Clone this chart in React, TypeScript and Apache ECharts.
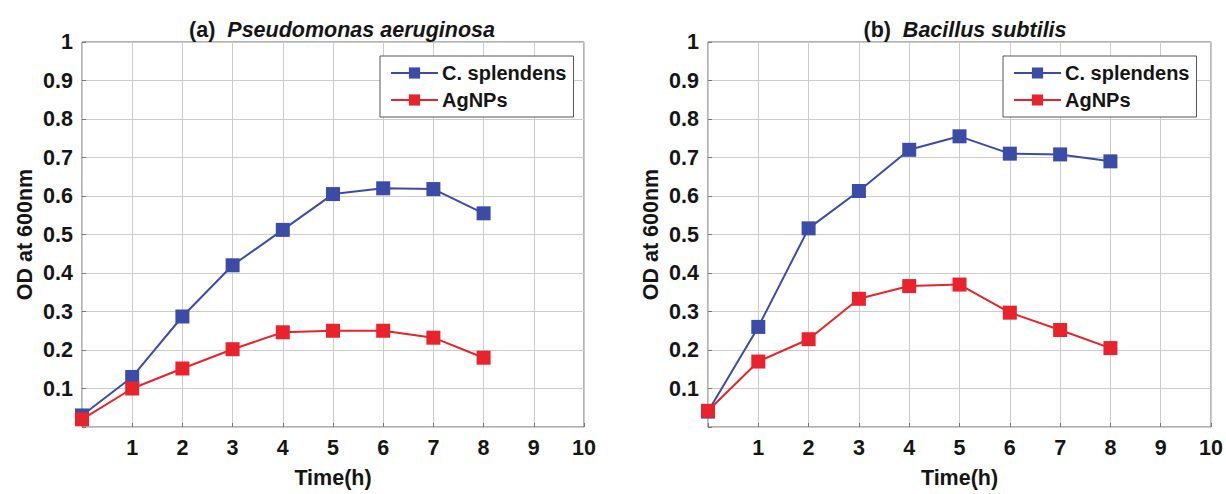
import React, { useEffect, useRef } from "react";
import * as echarts from "echarts";

const timeH = [0, 1, 2, 3, 4, 5, 6, 7, 8];
const paCSplendens = [0.03, 0.13, 0.287, 0.42, 0.512, 0.605, 0.62, 0.618, 0.555];
const paAgNPs = [0.02, 0.1, 0.152, 0.202, 0.246, 0.25, 0.25, 0.232, 0.18];
const bsCSplendens = [0.04, 0.26, 0.516, 0.613, 0.72, 0.755, 0.71, 0.708, 0.69];
const bsAgNPs = [0.042, 0.17, 0.228, 0.333, 0.366, 0.37, 0.297, 0.252, 0.205];
const seriesNames = ["C. splendens", "AgNPs"];
const panelTitles = [["(a)", "Pseudomonas aeruginosa"], ["(b)", "Bacillus subtilis"]];

const BLUE = "#3a4ca6";
const RED = "#e8232b";
const FONT = "'Liberation Sans', Arial, sans-serif";
const FS = 21.5;

export default function App() {
  const ref = useRef<HTMLDivElement>(null);
  useEffect(() => {
    document.body.style.margin = "0";
    const chart = echarts.init(ref.current!, null, { renderer: "svg" });
    const grids = [
      { left: 82, top: 42, width: 502, height: 389 },
      { left: 708, top: 42, width: 504, height: 389 },
    ];
    const txt = { fontFamily: FONT, fontWeight: "bold", fontSize: FS, color: "#151515" };
    const mkX = (i: number) => ({
      type: "value",
      gridIndex: i,
      min: 0,
      max: 10,
      interval: 1,
      name: "Time(h)",
      nameLocation: "middle",
      nameGap: 40,
      nameTextStyle: txt,
      axisLine: { show: false },
      axisTick: { show: true, inside: true, length: 4, lineStyle: { color: "#777" } },
      axisLabel: {
        margin: 10,
        ...txt,
        formatter: (v: number) => (v === 0 ? "" : String(v)),
      },
      splitLine: { show: true, lineStyle: { color: "#cccccc", width: 1 } },
    });
    const mkY = (i: number) => ({
      type: "value",
      gridIndex: i,
      min: 0,
      max: 1,
      interval: 0.1,
      name: "OD at 600nm",
      nameLocation: "middle",
      nameRotate: 90,
      nameGap: 46,
      nameTextStyle: txt,
      axisLine: { show: false },
      axisTick: { show: true, inside: true, length: 4, lineStyle: { color: "#777" } },
      axisLabel: {
        margin: 9,
        ...txt,
        formatter: (v: number) => (v === 0 ? "" : v >= 0.999 ? "1" : v.toFixed(1)),
      },
      splitLine: { show: true, lineStyle: { color: "#cccccc", width: 1 } },
    });
    const mkSeries = (name: string, vals: number[], color: string, i: number) => ({
      type: "line",
      name,
      xAxisIndex: i,
      yAxisIndex: i,
      data: timeH.map((t, k) => [t, vals[k]]),
      symbol: "rect",
      symbolSize: 14,
      lineStyle: { color, width: 2 },
      itemStyle: { color },
      z: name === seriesNames[1] ? 3 : 2,
    });
    const mkLegend = (left: number) => ({
      orient: "vertical",
      left,
      top: 56,
      data: seriesNames,
      itemWidth: 47,
      itemHeight: 14,
      itemGap: 7,
      padding: [7, 7, 7, 10],
      backgroundColor: "#fff",
      borderColor: "#555",
      borderWidth: 1,
      selectedMode: false,
      textStyle: { ...txt, fontSize: 20, padding: [0, 0, 0, -1] },
    });
    const titleCenters = [337, 960];
    chart.setOption({
      animation: false,
      backgroundColor: "#fff",
      title: panelTitles.map((t, i) => ({
        text: `{a|${t[0]}  }{b|${t[1]}}`,
        left: titleCenters[i],
        textAlign: "center",
        top: 14,
        textStyle: {
          rich: {
            a: { ...txt },
            b: { ...txt, fontStyle: "italic" },
          },
        },
      })),
      legend: [mkLegend(380), mkLegend(1003)],
      grid: grids.map((g) => ({ ...g, show: true, borderColor: "#666", borderWidth: 1, backgroundColor: "transparent" })),
      xAxis: [mkX(0), mkX(1)],
      yAxis: [mkY(0), mkY(1)],
      series: [
        mkSeries(seriesNames[0], paCSplendens, BLUE, 0),
        mkSeries(seriesNames[1], paAgNPs, RED, 0),
        mkSeries(seriesNames[0], bsCSplendens, BLUE, 1),
        mkSeries(seriesNames[1], bsAgNPs, RED, 1),
      ],
    });
    return () => chart.dispose();
  }, []);
  return <div ref={ref} style={{ width: 1226, height: 494, position: "absolute", left: 0, top: 0 }} />;
}
